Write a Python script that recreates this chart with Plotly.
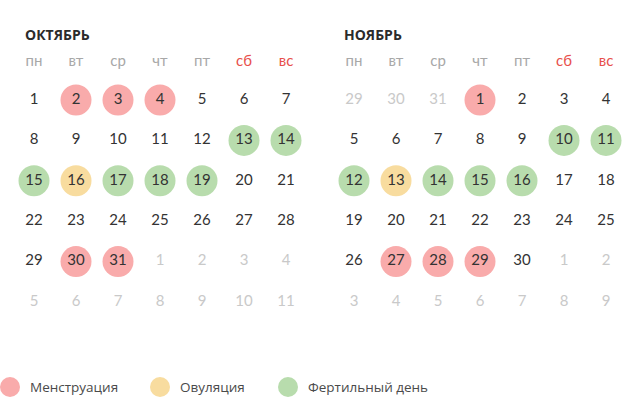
import plotly.graph_objects as go

# ---- data ----
month_names = ["ОКТЯБРЬ", "НОЯБРЬ"]
weekdays = ["пн", "вт", "ср", "чт", "пт", "сб", "вс"]
weekend_flags = [False, False, False, False, False, True, True]

# grid day numbers (6 rows x 7 cols) and whether the day is in the shown month
oct_days = [1, 2, 3, 4, 5, 6, 7,
            8, 9, 10, 11, 12, 13, 14,
            15, 16, 17, 18, 19, 20, 21,
            22, 23, 24, 25, 26, 27, 28,
            29, 30, 31, 1, 2, 3, 4,
            5, 6, 7, 8, 9, 10, 11]
oct_in_month = [True] * 31 + [False] * 11
nov_days = [29, 30, 31, 1, 2, 3, 4,
            5, 6, 7, 8, 9, 10, 11,
            12, 13, 14, 15, 16, 17, 18,
            19, 20, 21, 22, 23, 24, 25,
            26, 27, 28, 29, 30, 1, 2,
            3, 4, 5, 6, 7, 8, 9]
nov_in_month = [False] * 3 + [True] * 30 + [False] * 9

oct_menstruation = [2, 3, 4, 30, 31]
oct_ovulation = [16]
oct_fertile = [13, 14, 15, 17, 18, 19]
nov_menstruation = [1, 27, 28, 29]
nov_ovulation = [13]
nov_fertile = [10, 11, 12, 14, 15, 16]

legend_labels = ["Менструация", "Овуляция", "Фертильный день"]
legend_colors = ["#f9abab", "#f8dc9f", "#b8dcad"]

# ---- layout constants (page pixel coordinates) ----
W, H = 640, 412
col_dx = 42
row_dy = 40.4
month_x0 = [34, 354]
title_x = [23, 342]
title_y = 34
head_y = 62
row_y0 = 100
legend_y = 387
legend_marker_x = [10, 160, 288]

months = [
    (oct_days, oct_in_month, oct_menstruation, oct_ovulation, oct_fertile),
    (nov_days, nov_in_month, nov_menstruation, nov_ovulation, nov_fertile),
]

fig = go.Figure()
num_font = "Lato, 'Open Sans', sans-serif"

for mi, (days, inm, men, ovu, fer) in enumerate(months):
    x0 = month_x0[mi]
    for cat_days, color in zip([men, ovu, fer], legend_colors):
        xs, ys = [], []
        for i, (d, m) in enumerate(zip(days, inm)):
            if m and d in cat_days:
                xs.append(x0 + (i % 7) * col_dx)
                ys.append(row_y0 + (i // 7) * row_dy)
        fig.add_trace(go.Scatter(x=xs, y=ys, mode="markers",
                                 marker=dict(size=31, color=color, line=dict(width=0)),
                                 hoverinfo="skip", showlegend=False))
    xs = [x0 + (i % 7) * col_dx for i in range(len(days))]
    ys = [row_y0 + (i // 7) * row_dy for i in range(len(days))]
    colors = ["#333333" if m else "#c9c9c9" for m in inm]
    fig.add_trace(go.Scatter(x=xs, y=ys, mode="text", text=[str(d) for d in days],
                             textfont=dict(family=num_font, size=15, color=colors),
                             hoverinfo="skip", showlegend=False))
    fig.add_trace(go.Scatter(x=[x0 + c * col_dx for c in range(7)], y=[head_y] * 7,
                             mode="text", text=weekdays,
                             textfont=dict(family=num_font, size=15,
                                           color=["#e8504c" if w else "#a8a8a8" for w in weekend_flags]),
                             hoverinfo="skip", showlegend=False))
    fig.add_annotation(x=title_x[mi], y=title_y, text="<b>" + month_names[mi] + "</b>",
                       showarrow=False, xanchor="left", yanchor="middle",
                       font=dict(family="'Open Sans', sans-serif", size=14, color="#2b2b2b"))

fig.add_trace(go.Scatter(x=legend_marker_x, y=[legend_y] * 3, mode="markers",
                         marker=dict(size=20, color=legend_colors),
                         cliponaxis=False, hoverinfo="skip", showlegend=False))
for lx, lab in zip(legend_marker_x, legend_labels):
    fig.add_annotation(x=lx + 18, y=legend_y, text=lab, showarrow=False,
                       xanchor="left", yanchor="middle",
                       font=dict(family="'Open Sans', sans-serif", size=13.5, color="#4a4a4a"))

fig.update_layout(
    width=W, height=H, margin=dict(l=0, r=0, t=0, b=0),
    paper_bgcolor="white", plot_bgcolor="white",
    xaxis=dict(range=[0, W], visible=False, fixedrange=True),
    yaxis=dict(range=[H, 0], visible=False, fixedrange=True),
)
fig.write_html("out.html", config={"displayModeBar": False},
               post_script="document.body.style.margin='0';")
